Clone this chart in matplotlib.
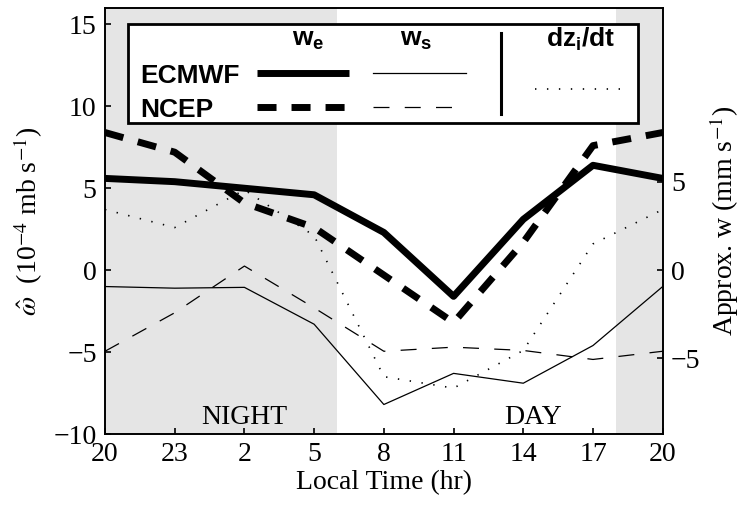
import numpy as np
import matplotlib
matplotlib.use('Agg')
import matplotlib.pyplot as plt
from matplotlib.patches import Rectangle

plt.rcParams['font.family'] = 'Liberation Serif'
plt.rcParams['mathtext.fontset'] = 'custom'
plt.rcParams['mathtext.rm'] = 'Liberation Sans:bold'
plt.rcParams['mathtext.it'] = 'Liberation Sans:bold'
plt.rcParams['mathtext.bf'] = 'Liberation Sans:bold'
plt.rcParams['lines.scale_dashes'] = False

# local time labels (every 3 hours, one full day)
hours = [20, 23, 2, 5, 8, 11, 14, 17, 20]
# omega estimates (10^-4 mb/s)
ecmwf_we = [5.6, 5.4, 5.0, 4.6, 2.3, -1.6, 3.1, 6.4, 5.6]
ncep_we = [8.4, 7.2, 4.1, 2.6, -0.3, -3.2, 1.7, 7.6, 8.4]
ecmwf_ws = [-1.0, -1.1, -1.05, -3.3, -8.2, -6.3, -6.9, -4.6, -1.0]
ncep_ws = [-4.95, -2.6, 0.25, -2.3, -4.95, -4.7, -4.9, -5.45, -4.95]
dzidt = [3.7, 2.6, 4.9, 2.1, -6.5, -7.2, -4.9, 1.6, 3.7]
night = [(0, 10), (22, 24)]   # hours since 20h that are dark

t = np.arange(len(hours)) * 3

fig = plt.figure(figsize=(7.52, 5.12), dpi=100)
ax = fig.add_axes([105/752, 1-434/512, 557.7/752, 426/512])

for a, b in night:
    ax.axvspan(a, b, color='#e5e5e5', lw=0, zorder=0)

thick = 5.0
ax.plot(t, ecmwf_ws, color='k', lw=0.9)
ax.plot(t, ncep_ws, color='k', lw=0.9, dashes=(11.5, 11))
ax.plot(t, dzidt, color='k', lw=1.2, dashes=(1.0, 7.6))
ax.plot(t, ecmwf_we, color='k', lw=thick)
ax.plot(t, ncep_we, color='k', lw=thick, dashes=(13.7, 10.8))

ax.set_xlim(0, 24)
ax.set_ylim(-10, 16)
ax.set_xticks(t)
ax.set_xticklabels([str(h) for h in hours])
ax.set_yticks([-10, -5, 0, 5, 10, 15])
ax.tick_params(direction='in', length=4, width=1.2, labelsize=20, pad=6)
for s in ax.spines.values():
    s.set_linewidth(1.2)

ax.text(6, -9.75, 'NIGHT', ha='center', va='bottom', fontsize=20)
ax.text(18.4, -9.75, 'DAY', ha='center', va='bottom', fontsize=20)

ax.set_xlabel('Local Time (hr)', fontsize=20, labelpad=2)
ax.set_ylabel(r'$\hat{\omega}$  (10$^{-4}$ mb s$^{-1}$)', fontsize=20,
              math_fontfamily='stix', labelpad=6)

# right axis: approximate vertical velocity
k = 16.39 / 17.66
ax2 = ax.twinx()
ax2.set_ylim(-10*k, 16*k)
ax2.set_yticks([-5, 0, 5])
ax2.tick_params(direction='in', length=4, width=1.2, labelsize=20, pad=6)
ax2.set_ylabel(r'Approx. w (mm s$^{-1}$)', fontsize=20,
               math_fontfamily='stix', labelpad=5)
for s in ax2.spines.values():
    s.set_linewidth(1.2)


# hand-made legend in the upper part of the axes
def pos(px, py):
    return ((px - 105) / 557.7, 1 - (py - 8) / 426)


tr = ax2.transAxes
x0, y1 = pos(128.3, 24)
x1, y0 = pos(638.3, 123)
ax2.add_patch(Rectangle((x0, y0), x1-x0, y1-y0, transform=tr, facecolor='white',
                        edgecolor='k', lw=2, zorder=5))

def seg(pa, pb, py, **kw):
    (xa, ya), (xb, _) = pos(pa, py), pos(pb, py)
    ax2.plot([xa, xb], [ya, ya], transform=tr, color='k', zorder=6, **kw)

seg(257, 349, 72.7, lw=thick, solid_capstyle='butt')
seg(257, 349, 107.3, lw=thick, dashes=(13.7, 10.8))
seg(373, 466, 72.7, lw=0.9)
seg(373, 466, 107.3, lw=0.9, dashes=(11.5, 11))
seg(535, 628, 89.3, lw=1.2, dashes=(1.0, 7.6))
xs, ya = pos(501, 33)
_, yb = pos(501, 114)
ax2.plot([xs, xs], [ya, yb], transform=tr, color='k', lw=2.2, zorder=6)

lf = dict(transform=tr, fontsize=19, zorder=7, family='Liberation Sans', weight='bold')
ax2.text(*pos(140, 83.3), 'ECMWF', ha='left', va='baseline', **lf)
ax2.text(*pos(140, 116.7), 'NCEP', ha='left', va='baseline', **lf)
ax2.text(*pos(308, 46), r'$\mathrm{w_e}$', ha='center', va='baseline', **lf)
ax2.text(*pos(416, 46), r'$\mathrm{w_s}$', ha='center', va='baseline', **lf)
ax2.text(*pos(581, 47), r'$\mathrm{dz_i/dt}$', ha='center', va='baseline', **lf)

fig.savefig('out.png', dpi=100)
